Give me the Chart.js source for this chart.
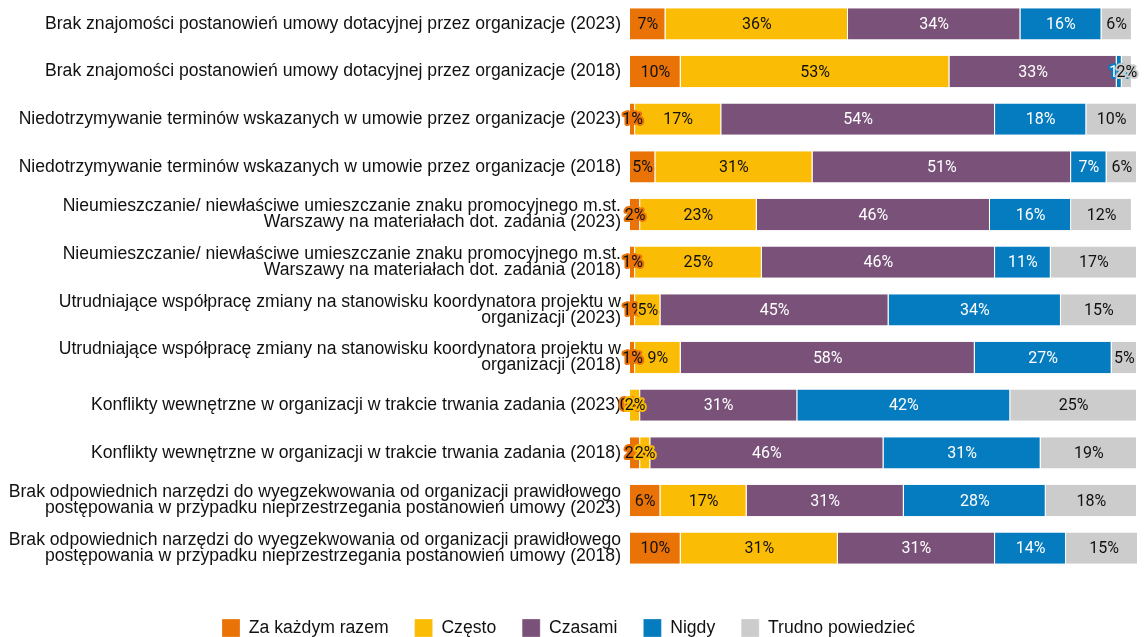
<!DOCTYPE html>
<html>
<head>
<meta charset="utf-8">
<script src="https://cdn.jsdelivr.net/npm/chart.js@4.4.1/dist/chart.umd.min.js"></script>
<style>
  html, body { margin: 0; padding: 0; background: #fff; }
  #wrap { width: 1146px; height: 637px; }
</style>
</head>
<body>
<div id="wrap"><canvas id="chart"></canvas></div>
<script>
const categories = [
  'Brak znajomości postanowień umowy dotacyjnej przez organizacje (2023)',
  'Brak znajomości postanowień umowy dotacyjnej przez organizacje (2018)',
  'Niedotrzymywanie terminów wskazanych w umowie przez organizacje (2023)',
  'Niedotrzymywanie terminów wskazanych w umowie przez organizacje (2018)',
  ['Nieumieszczanie/ niewłaściwe umieszczanie znaku promocyjnego m.st.', 'Warszawy na materiałach dot. zadania (2023)'],
  ['Nieumieszczanie/ niewłaściwe umieszczanie znaku promocyjnego m.st.', 'Warszawy na materiałach dot. zadania (2018)'],
  ['Utrudniające współpracę zmiany na stanowisku koordynatora projektu w', 'organizacji (2023)'],
  ['Utrudniające współpracę zmiany na stanowisku koordynatora projektu w', 'organizacji (2018)'],
  'Konflikty wewnętrzne w organizacji w trakcie trwania zadania (2023)',
  'Konflikty wewnętrzne w organizacji w trakcie trwania zadania (2018)',
  ['Brak odpowiednich narzędzi do wyegzekwowania od organizacji prawidłowego', 'postępowania w przypadku nieprzestrzegania postanowień umowy (2023)'],
  ['Brak odpowiednich narzędzi do wyegzekwowania od organizacji prawidłowego', 'postępowania w przypadku nieprzestrzegania postanowień umowy (2018)']
];

const seriesNames = ['Za każdym razem', 'Często', 'Czasami', 'Nigdy', 'Trudno powiedzieć'];

const zaKazdymRazem = [7, 10, 1, 5, 2, 1, 1, 1, 0, 2, 6, 10];
const czesto        = [36, 53, 17, 31, 23, 25, 5, 9, 2, 2, 17, 31];
const czasami       = [34, 33, 54, 51, 46, 46, 45, 58, 31, 46, 31, 31];
const nigdy         = [16, 1, 18, 7, 16, 11, 34, 27, 42, 31, 28, 14];
const trudno        = [6, 2, 10, 6, 12, 17, 15, 5, 25, 19, 18, 15];

const colors = ['#ea7307', '#fbbc05', '#7a5279', '#067cc0', '#cccccc'];
const textColors = ['#111', '#111', '#fff', '#fff', '#111'];

const seriesValues = [zaKazdymRazem, czesto, czasami, nigdy, trudno];

const labelFont = '"Liberation Sans", Arial, sans-serif';

// labels centred in each segment, stroked with the segment colour
const segmentLabels = {
  id: 'segmentLabels',
  afterDatasetsDraw(chart) {
    const ctx = chart.ctx;
    ctx.save();
    ctx.font = '16px Roboto';
    ctx.textAlign = 'center';
    ctx.textBaseline = 'middle';
    ctx.lineJoin = 'round';
    ctx.lineWidth = 4;
    chart.data.datasets.forEach((ds, i) => {
      chart.getDatasetMeta(i).data.forEach((bar, j) => {
        const p = bar.getProps(['x', 'y', 'base'], true);
        const cx = (p.x + p.base) / 2;
        const txt = ds.data[j] + '%';
        ctx.strokeStyle = colors[i];
        ctx.strokeText(txt, cx, p.y + 1);
        ctx.fillStyle = textColors[i];
        ctx.fillText(txt, cx, p.y + 1);
      });
    });
    ctx.restore();
  }
};

new Chart(document.getElementById('chart'), {
  type: 'bar',
  data: {
    labels: categories,
    datasets: seriesNames.map((name, i) => ({
      label: name,
      data: seriesValues[i],
      backgroundColor: colors[i],
      borderColor: '#ffffff',
      borderWidth: { left: 0, right: 1, top: 0, bottom: 0 },
      borderSkipped: false,
      barPercentage: 0.82,
      categoryPercentage: 0.8,
    })),
  },
  options: {
    indexAxis: 'y',
    responsive: true,
    maintainAspectRatio: false,
    animation: false,
    layout: {
      padding: { top: 0, right: 9, left: 0, bottom: -10 },
    },
    scales: {
      x: {
        stacked: true,
        min: 0,
        max: 100,
        grid: { display: false },
        border: { display: false },
        ticks: { display: false },
        afterFit: (s) => { s.height = 21; },
      },
      y: {
        stacked: true,
        grid: { display: false },
        border: { display: false },
        ticks: {
          color: '#111',
          padding: 1,
          font: { family: labelFont, size: 17.6, lineHeight: 0.92 },
        },
        afterFit: (s) => {
          s.width = 630;
          s.paddingTop = 0;
          s.paddingBottom = 0;
        },
      },
    },
    plugins: {
      legend: {
        position: 'bottom',
        labels: {
          boxWidth: 18,
          boxHeight: 18,
          padding: 26,
          color: '#111',
          font: { family: labelFont, size: 17.6 },
        },
      },
      tooltip: { enabled: false },
    },
  },
  plugins: [segmentLabels],
});
</script>
</body>
</html>
